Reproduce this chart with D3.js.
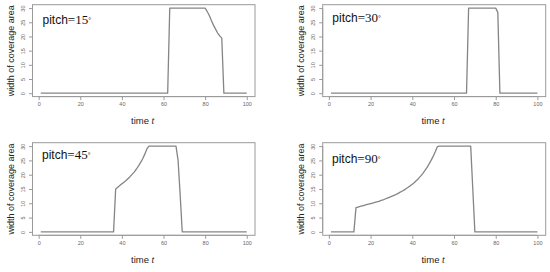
<!DOCTYPE html>
<html>
<head>
<meta charset="utf-8">
<script src="https://cdn.jsdelivr.net/npm/d3@7/dist/d3.min.js"></script>
<style>
  body { margin: 0; background: #fff; }
  svg { display: block; }
</style>
</head>
<body>
<div id="chart"></div>
<script>
// [time, width] points
var pitch15 = [[1,0],[62,0],[63,30],[80,30],[81,28.8],[82,27.4],[83,25.6],[84,24],[85,22.6],[86,21.2],[87,20.2],[88,19.4],[89,0],[100,0]];
var pitch30 = [[1,0],[66,0],[67,30],[80,30],[81,28.5],[82,0],[100,0]];
var pitch45 = [[1,0],[36,0],[37,15],[38,15.6],[39,16.2],[40,16.8],[41,17.4],[42,18],[43,18.7],[44,19.4],[45,20.2],[46,21],[47,22],[48,23.1],[49,24.3],[50,25.6],[51,27.2],[52,29],[53,30],[66,30],[67,25],[68,13],[69,0],[100,0]];
var pitch90 = [[1,0],[12,0],[13,8.5],[14,8.7],[15,8.9],[16,9.1],[17,9.3],[18,9.5],[19,9.7],[20,9.9],[21,10.1],[22,10.3],[23,10.5],[24,10.7],[25,11],[26,11.2],[27,11.5],[28,11.8],[29,12.1],[30,12.4],[31,12.7],[32,13],[33,13.4],[34,13.8],[35,14.2],[36,14.6],[37,15.1],[38,15.6],[39,16.1],[40,16.7],[41,17.3],[42,18],[43,18.7],[44,19.5],[45,20.4],[46,21.4],[47,22.5],[48,23.7],[49,25],[50,26.4],[51,28],[52,29.8],[53,30],[68,30],[69,15],[70,0],[100,0]];

var pitchLabels = ['15', '30', '45', '90'];
var xTicks = [0, 20, 40, 60, 80, 100];
var yTicks = [0, 5, 10, 15, 20, 25, 30];

var W = 550, H = 272;

var svg = d3.select('#chart').append('svg')
    .attr('width', W)
    .attr('height', H)
;

// plot boxes, in page pixels
var cols = [[32.5, 255], [322.7, 545.7]];
var rows = [[4.7, 96.6], [142.7, 235.3]];
var labelPos = [[10, 19.5], [9.6, 17], [9.5, 16], [9.3, 20]];

var panels = [pitch15, pitch30, pitch45, pitch90];

panels.forEach(function (data, i) {
    var c = cols[i % 2], r = rows[Math.floor(i / 2)];

    var x = d3.scaleLinear().domain([-2.96, 103.96]).range(c);
    var y = d3.scaleLinear().domain([-1.2, 31.2]).range([r[1], r[0]]);

    var g = svg.append('g').attr('class', 'panel');

    g.append('rect')
        .attr('x', c[0]).attr('y', r[0])
        .attr('width', c[1] - c[0]).attr('height', r[1] - r[0])
        .attr('fill', 'none')
        .attr('stroke', '#9a9a9a')
        .attr('stroke-width', 1)
    ;

    // x axis
    var xa = g.append('g')
        .attr('transform', 'translate(0,' + r[1] + ')')
        .call(d3.axisBottom(x).tickValues(xTicks).tickSize(3.5).tickPadding(2));
    xa.select('.domain')
        .attr('d', 'M' + x(0) + ',0H' + x(100))
        .attr('stroke', '#9a9a9a');
    xa.selectAll('.tick line').attr('stroke', '#9a9a9a');
    xa.selectAll('.tick text')
        .attr('fill', '#666')
        .style('font-family', 'Liberation Sans, Arial, sans-serif')
        .style('font-size', '5.5px');

    // y axis
    var ya = g.append('g')
        .attr('transform', 'translate(' + c[0] + ',0)')
        .call(d3.axisLeft(y).tickValues(yTicks).tickSize(3.5).tickPadding(2));
    ya.select('.domain')
        .attr('d', 'M0,' + y(0) + 'V' + y(30))
        .attr('stroke', '#9a9a9a');
    ya.selectAll('.tick line').attr('stroke', '#9a9a9a');
    ya.selectAll('.tick text')
        .attr('fill', '#666')
        .attr('x', null).attr('dy', null)
        .attr('text-anchor', 'middle')
        .attr('transform', 'translate(-7.5,0) rotate(-90)')
        .style('font-family', 'Liberation Sans, Arial, sans-serif')
        .style('font-size', '5.5px');

    // the series
    var line = d3.line()
        .x(function (d) { return x(d[0]); })
        .y(function (d) { return y(d[1]); });

    g.append('path')
        .datum(data)
        .attr('d', line)
        .attr('fill', 'none')
        .attr('stroke', '#858585')
        .attr('stroke-width', 1.3)
        .attr('stroke-linejoin', 'round')
    ;

    // axis titles
    var xt = g.append('text')
        .attr('x', (x(0) + x(100)) / 2)
        .attr('y', r[1] + 27.5)
        .attr('text-anchor', 'middle')
        .attr('fill', '#222')
        .style('font-family', 'Liberation Sans, Arial, sans-serif')
        .style('font-size', '9.5px');
    xt.append('tspan').text('time ');
    xt.append('tspan').text('t')
        .style('font-family', 'Liberation Serif, serif')
        .style('font-style', 'italic')
        .style('font-size', '10px');

    g.append('text')
        .attr('transform', 'translate(' + (c[0] - 19) + ',' + ((r[0] + r[1]) / 2) + ') rotate(-90)')
        .attr('text-anchor', 'middle')
        .attr('fill', '#222')
        .style('font-family', 'Liberation Sans, Arial, sans-serif')
        .style('font-size', '9px')
        .text('width of coverage area');

    // pitch label
    var pt = g.append('text')
        .attr('x', c[0] + labelPos[i][0])
        .attr('y', r[0] + labelPos[i][1])
        .attr('fill', '#111')
        .style('font-size', '12px');
    pt.append('tspan').text('pitch')
        .style('font-family', 'Liberation Sans, Arial, sans-serif');
    pt.append('tspan').text('=' + pitchLabels[i])
        .style('font-family', 'Liberation Serif, serif')
        .style('font-size', '13px');
    pt.append('tspan').text('°')
        .attr('dy', -1)
        .style('font-family', 'Liberation Sans, Arial, sans-serif')
        .style('font-size', '7px');
});
</script>
</body>
</html>
